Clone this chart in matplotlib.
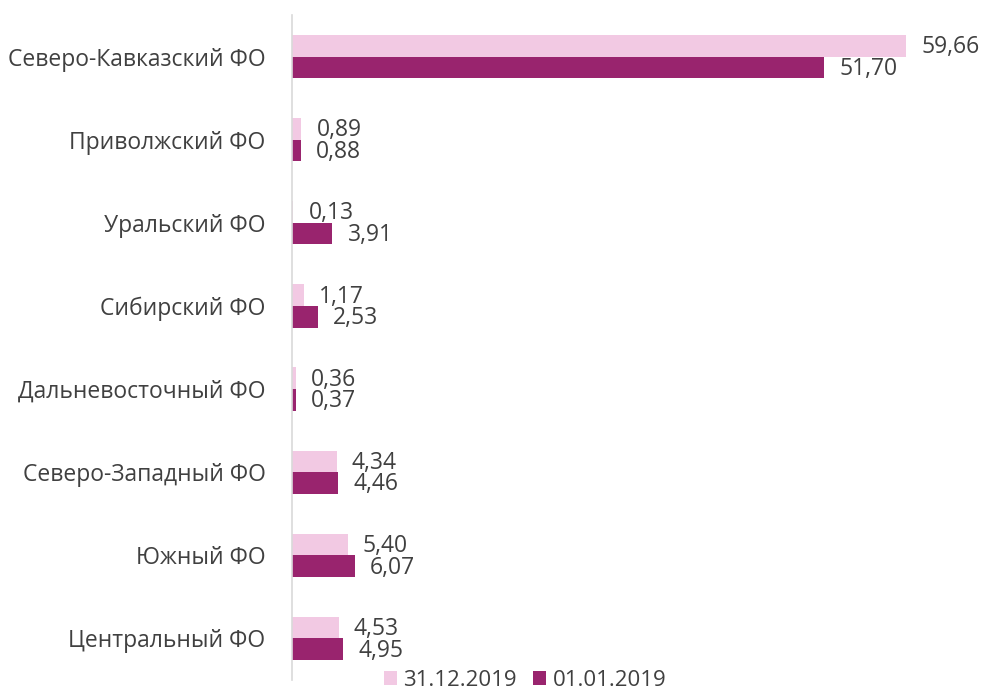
import numpy as np
import matplotlib.pyplot as plt

regions = ["Северо-Кавказский ФО", "Приволжский ФО", "Уральский ФО", "Сибирский ФО",
           "Дальневосточный ФО", "Северо-Западный ФО", "Южный ФО", "Центральный ФО"]
val_2019_end = [59.66, 0.89, 0.13, 1.17, 0.36, 4.34, 5.40, 4.53]
val_2019_start = [51.70, 0.88, 3.91, 2.53, 0.37, 4.46, 6.07, 4.95]
series_names = ["31.12.2019", "01.01.2019"]

light = "#F2C9E3"
dark = "#99246E"
txt = "#404040"

plt.rcParams['font.family'] = ['Open Sans', 'DejaVu Sans']

fig = plt.figure(figsize=(9.82, 6.93), dpi=100)
ax = fig.add_axes([292 / 982, 13 / 693, 690 / 982, 665 / 693])

y = np.arange(len(regions))
h = 0.26
b1 = ax.barh(y - h / 2, val_2019_end, height=h, color=light, label=series_names[0])
b2 = ax.barh(y + h / 2, val_2019_start, height=h, color=dark, label=series_names[1])

# подписи значений справа от столбцов
for bars in (b1, b2):
    for bar in bars:
        v = bar.get_width()
        ax.annotate(f"{v:.2f}".replace(".", ","),
                    (v, bar.get_y() + bar.get_height() / 2),
                    xytext=(11, -1), textcoords="offset points",
                    va="center", ha="left", fontsize=16.5, color=txt)

ax.set_xlim(0, 67)
ax.set_ylim(len(regions) - 0.5, -0.5)
ax.set_yticks(y)
ax.set_yticklabels(regions, fontsize=16.5, color=txt)
ax.tick_params(axis="y", length=0, pad=19)
ax.set_xticks([])
for s in ["top", "right", "bottom"]:
    ax.spines[s].set_visible(False)
ax.spines["left"].set_color("#D9D9D9")
ax.spines["left"].set_linewidth(1.2)

fig.legend(loc="center", bbox_to_anchor=(525 / 982, 1 - 680 / 693), ncol=2,
           frameon=False, fontsize=16, labelcolor=txt, handlelength=0.6,
           handleheight=0.6, handletextpad=0.3, columnspacing=0.7,
           borderpad=0.1)

fig.savefig("out.png", dpi=100)
